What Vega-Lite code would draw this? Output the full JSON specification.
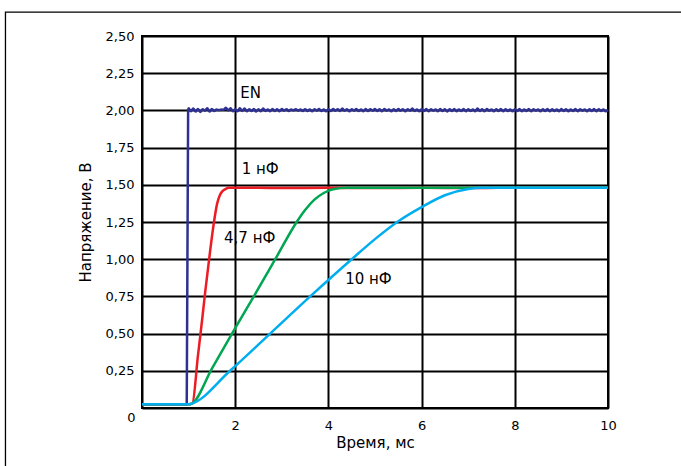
{
  "$schema": "https://vega.github.io/schema/vega-lite/v6.json",
  "width": 466,
  "height": 372,
  "autosize": {"type": "none"},
  "padding": {"left": 142, "top": 36, "right": 73, "bottom": 58},
  "background": "white",
  "config": {
    "view": {"stroke": "black", "strokeWidth": 2},
    "font": "DejaVu Sans"
  },
  "datasets": {
    "curves": [
      {"x": 0, "y": 0.025, "s": "EN"}, {"x": 0.5, "y": 0.025, "s": "EN"}, {"x": 0.96, "y": 0.025, "s": "EN"}, {"x": 0.99, "y": 2.004, "s": "EN"},
      {"x": 1.00, "y": 2.014, "s": "EN"}, {"x": 1.05, "y": 1.994, "s": "EN"}, {"x": 1.10, "y": 2.012, "s": "EN"}, {"x": 1.15, "y": 1.992, "s": "EN"}, {"x": 1.20, "y": 2.010, "s": "EN"}, {"x": 1.25, "y": 1.990, "s": "EN"}, {"x": 1.30, "y": 2.008, "s": "EN"}, {"x": 1.35, "y": 1.998, "s": "EN"}, {"x": 1.40, "y": 2.014, "s": "EN"}, {"x": 1.45, "y": 1.992, "s": "EN"},
      {"x": 1.50, "y": 2.010, "s": "EN"}, {"x": 1.55, "y": 1.996, "s": "EN"}, {"x": 1.60, "y": 2.006, "s": "EN"}, {"x": 1.65, "y": 2.002, "s": "EN"}, {"x": 1.70, "y": 2.006, "s": "EN"}, {"x": 1.75, "y": 2.004, "s": "EN"}, {"x": 1.80, "y": 2.018, "s": "EN"}, {"x": 1.85, "y": 2.000, "s": "EN"}, {"x": 1.90, "y": 2.014, "s": "EN"}, {"x": 1.95, "y": 1.994, "s": "EN"},
      {"x": 2.00, "y": 2.008, "s": "EN"}, {"x": 2.05, "y": 1.994, "s": "EN"}, {"x": 2.10, "y": 2.014, "s": "EN"}, {"x": 2.15, "y": 1.996, "s": "EN"}, {"x": 2.20, "y": 2.012, "s": "EN"}, {"x": 2.25, "y": 1.994, "s": "EN"}, {"x": 2.30, "y": 2.008, "s": "EN"}, {"x": 2.35, "y": 1.996, "s": "EN"}, {"x": 2.40, "y": 2.010, "s": "EN"}, {"x": 2.45, "y": 1.992, "s": "EN"},
      {"x": 2.50, "y": 2.008, "s": "EN"}, {"x": 2.55, "y": 1.994, "s": "EN"}, {"x": 2.60, "y": 2.012, "s": "EN"}, {"x": 2.65, "y": 1.996, "s": "EN"}, {"x": 2.70, "y": 2.006, "s": "EN"}, {"x": 2.75, "y": 1.994, "s": "EN"}, {"x": 2.80, "y": 2.010, "s": "EN"}, {"x": 2.85, "y": 1.996, "s": "EN"}, {"x": 2.90, "y": 2.008, "s": "EN"}, {"x": 2.95, "y": 1.994, "s": "EN"},
      {"x": 3.00, "y": 2.010, "s": "EN"}, {"x": 3.05, "y": 1.998, "s": "EN"}, {"x": 3.10, "y": 2.008, "s": "EN"}, {"x": 3.15, "y": 1.996, "s": "EN"}, {"x": 3.20, "y": 2.006, "s": "EN"}, {"x": 3.25, "y": 2.000, "s": "EN"}, {"x": 3.30, "y": 2.008, "s": "EN"}, {"x": 3.35, "y": 1.998, "s": "EN"}, {"x": 3.40, "y": 2.006, "s": "EN"}, {"x": 3.45, "y": 1.996, "s": "EN"},
      {"x": 3.50, "y": 2.008, "s": "EN"}, {"x": 3.55, "y": 1.996, "s": "EN"}, {"x": 3.60, "y": 2.006, "s": "EN"}, {"x": 3.65, "y": 1.994, "s": "EN"}, {"x": 3.70, "y": 2.008, "s": "EN"}, {"x": 3.75, "y": 1.998, "s": "EN"}, {"x": 3.80, "y": 2.010, "s": "EN"}, {"x": 3.85, "y": 1.996, "s": "EN"}, {"x": 3.90, "y": 2.006, "s": "EN"}, {"x": 3.95, "y": 1.994, "s": "EN"},
      {"x": 4.00, "y": 2.008, "s": "EN"}, {"x": 4.05, "y": 1.996, "s": "EN"}, {"x": 4.10, "y": 2.010, "s": "EN"}, {"x": 4.15, "y": 1.998, "s": "EN"}, {"x": 4.20, "y": 2.008, "s": "EN"}, {"x": 4.25, "y": 1.996, "s": "EN"}, {"x": 4.30, "y": 2.012, "s": "EN"}, {"x": 4.35, "y": 1.998, "s": "EN"}, {"x": 4.40, "y": 2.008, "s": "EN"}, {"x": 4.45, "y": 1.994, "s": "EN"},
      {"x": 4.50, "y": 2.008, "s": "EN"}, {"x": 4.55, "y": 1.998, "s": "EN"}, {"x": 4.60, "y": 2.010, "s": "EN"}, {"x": 4.65, "y": 1.996, "s": "EN"}, {"x": 4.70, "y": 2.006, "s": "EN"}, {"x": 4.75, "y": 1.994, "s": "EN"}, {"x": 4.80, "y": 2.010, "s": "EN"}, {"x": 4.85, "y": 1.996, "s": "EN"}, {"x": 4.90, "y": 2.008, "s": "EN"}, {"x": 4.95, "y": 1.998, "s": "EN"},
      {"x": 5.00, "y": 2.010, "s": "EN"}, {"x": 5.05, "y": 1.996, "s": "EN"}, {"x": 5.10, "y": 2.008, "s": "EN"}, {"x": 5.15, "y": 1.994, "s": "EN"}, {"x": 5.20, "y": 2.010, "s": "EN"}, {"x": 5.25, "y": 1.998, "s": "EN"}, {"x": 5.30, "y": 2.006, "s": "EN"}, {"x": 5.35, "y": 1.994, "s": "EN"}, {"x": 5.40, "y": 2.008, "s": "EN"}, {"x": 5.45, "y": 1.996, "s": "EN"},
      {"x": 5.50, "y": 2.010, "s": "EN"}, {"x": 5.55, "y": 1.998, "s": "EN"}, {"x": 5.60, "y": 2.008, "s": "EN"}, {"x": 5.65, "y": 1.994, "s": "EN"}, {"x": 5.70, "y": 2.008, "s": "EN"}, {"x": 5.75, "y": 1.998, "s": "EN"}, {"x": 5.80, "y": 2.012, "s": "EN"}, {"x": 5.85, "y": 1.996, "s": "EN"}, {"x": 5.90, "y": 2.006, "s": "EN"}, {"x": 5.95, "y": 1.994, "s": "EN"},
      {"x": 6.00, "y": 2.008, "s": "EN"}, {"x": 6.05, "y": 1.996, "s": "EN"}, {"x": 6.10, "y": 2.010, "s": "EN"}, {"x": 6.15, "y": 1.994, "s": "EN"}, {"x": 6.20, "y": 2.008, "s": "EN"}, {"x": 6.25, "y": 1.998, "s": "EN"}, {"x": 6.30, "y": 2.006, "s": "EN"}, {"x": 6.35, "y": 1.994, "s": "EN"}, {"x": 6.40, "y": 2.010, "s": "EN"}, {"x": 6.45, "y": 1.996, "s": "EN"},
      {"x": 6.50, "y": 2.008, "s": "EN"}, {"x": 6.55, "y": 1.992, "s": "EN"}, {"x": 6.60, "y": 2.008, "s": "EN"}, {"x": 6.65, "y": 1.996, "s": "EN"}, {"x": 6.70, "y": 2.010, "s": "EN"}, {"x": 6.75, "y": 1.994, "s": "EN"}, {"x": 6.80, "y": 2.006, "s": "EN"}, {"x": 6.85, "y": 1.996, "s": "EN"}, {"x": 6.90, "y": 2.010, "s": "EN"}, {"x": 6.95, "y": 1.994, "s": "EN"},
      {"x": 7.00, "y": 2.008, "s": "EN"}, {"x": 7.05, "y": 1.996, "s": "EN"}, {"x": 7.10, "y": 2.006, "s": "EN"}, {"x": 7.15, "y": 1.994, "s": "EN"}, {"x": 7.20, "y": 2.012, "s": "EN"}, {"x": 7.25, "y": 1.996, "s": "EN"}, {"x": 7.30, "y": 2.008, "s": "EN"}, {"x": 7.35, "y": 1.994, "s": "EN"}, {"x": 7.40, "y": 2.010, "s": "EN"}, {"x": 7.45, "y": 1.998, "s": "EN"},
      {"x": 7.50, "y": 2.006, "s": "EN"}, {"x": 7.55, "y": 1.994, "s": "EN"}, {"x": 7.60, "y": 2.008, "s": "EN"}, {"x": 7.65, "y": 1.996, "s": "EN"}, {"x": 7.70, "y": 2.010, "s": "EN"}, {"x": 7.75, "y": 1.994, "s": "EN"}, {"x": 7.80, "y": 2.008, "s": "EN"}, {"x": 7.85, "y": 1.996, "s": "EN"}, {"x": 7.90, "y": 2.006, "s": "EN"}, {"x": 7.95, "y": 1.994, "s": "EN"},
      {"x": 8.00, "y": 2.008, "s": "EN"}, {"x": 8.05, "y": 1.996, "s": "EN"}, {"x": 8.10, "y": 2.010, "s": "EN"}, {"x": 8.15, "y": 1.994, "s": "EN"}, {"x": 8.20, "y": 2.006, "s": "EN"}, {"x": 8.25, "y": 1.996, "s": "EN"}, {"x": 8.30, "y": 2.010, "s": "EN"}, {"x": 8.35, "y": 1.994, "s": "EN"}, {"x": 8.40, "y": 2.008, "s": "EN"}, {"x": 8.45, "y": 1.998, "s": "EN"},
      {"x": 8.50, "y": 2.006, "s": "EN"}, {"x": 8.55, "y": 1.994, "s": "EN"}, {"x": 8.60, "y": 2.008, "s": "EN"}, {"x": 8.65, "y": 1.996, "s": "EN"}, {"x": 8.70, "y": 2.010, "s": "EN"}, {"x": 8.75, "y": 1.994, "s": "EN"}, {"x": 8.80, "y": 2.008, "s": "EN"}, {"x": 8.85, "y": 1.996, "s": "EN"}, {"x": 8.90, "y": 2.006, "s": "EN"}, {"x": 8.95, "y": 1.994, "s": "EN"},
      {"x": 9.00, "y": 2.010, "s": "EN"}, {"x": 9.05, "y": 1.996, "s": "EN"}, {"x": 9.10, "y": 2.008, "s": "EN"}, {"x": 9.15, "y": 1.994, "s": "EN"}, {"x": 9.20, "y": 2.006, "s": "EN"}, {"x": 9.25, "y": 1.996, "s": "EN"}, {"x": 9.30, "y": 2.010, "s": "EN"}, {"x": 9.35, "y": 1.994, "s": "EN"}, {"x": 9.40, "y": 2.008, "s": "EN"}, {"x": 9.45, "y": 1.998, "s": "EN"},
      {"x": 9.50, "y": 2.006, "s": "EN"}, {"x": 9.55, "y": 1.994, "s": "EN"}, {"x": 9.60, "y": 2.008, "s": "EN"}, {"x": 9.65, "y": 1.996, "s": "EN"}, {"x": 9.70, "y": 2.010, "s": "EN"}, {"x": 9.75, "y": 1.994, "s": "EN"}, {"x": 9.80, "y": 2.008, "s": "EN"}, {"x": 9.85, "y": 1.996, "s": "EN"}, {"x": 9.90, "y": 2.006, "s": "EN"}, {"x": 9.95, "y": 1.994, "s": "EN"}, {"x": 10.00, "y": 2.004, "s": "EN"},

      {"x": 0, "y": 0.025, "s": "1"}, {"x": 0.5, "y": 0.025, "s": "1"}, {"x": 1.0, "y": 0.025, "s": "1"}, {"x": 1.08, "y": 0.03, "s": "1"}, {"x": 1.2, "y": 0.35, "s": "1"}, {"x": 1.3, "y": 0.62, "s": "1"}, {"x": 1.36, "y": 0.79, "s": "1"}, {"x": 1.46, "y": 1.05, "s": "1"}, {"x": 1.54, "y": 1.24, "s": "1"}, {"x": 1.61, "y": 1.37, "s": "1"}, {"x": 1.67, "y": 1.43, "s": "1"}, {"x": 1.72, "y": 1.455, "s": "1"}, {"x": 1.8, "y": 1.473, "s": "1"}, {"x": 1.86, "y": 1.48, "s": "1"}, {"x": 2.5, "y": 1.48, "s": "1"}, {"x": 3.0, "y": 1.478, "s": "1"}, {"x": 4.0, "y": 1.48, "s": "1"}, {"x": 5.0, "y": 1.478, "s": "1"}, {"x": 6.0, "y": 1.48, "s": "1"}, {"x": 7.0, "y": 1.478, "s": "1"}, {"x": 7.6, "y": 1.48, "s": "1"},

      {"x": 0, "y": 0.025, "s": "4.7"}, {"x": 0.5, "y": 0.025, "s": "4.7"}, {"x": 1.0, "y": 0.025, "s": "4.7"}, {"x": 1.07, "y": 0.03, "s": "4.7"}, {"x": 1.5, "y": 0.265, "s": "4.7"}, {"x": 1.95, "y": 0.51, "s": "4.7"}, {"x": 2.4, "y": 0.75, "s": "4.7"}, {"x": 2.86, "y": 1.0, "s": "4.7"}, {"x": 3.32, "y": 1.25, "s": "4.7"}, {"x": 3.5, "y": 1.33, "s": "4.7"}, {"x": 3.7, "y": 1.4, "s": "4.7"}, {"x": 3.9, "y": 1.445, "s": "4.7"}, {"x": 4.1, "y": 1.47, "s": "4.7"}, {"x": 4.4, "y": 1.48, "s": "4.7"}, {"x": 6.0, "y": 1.48, "s": "4.7"}, {"x": 8.0, "y": 1.48, "s": "4.7"}, {"x": 10.0, "y": 1.48, "s": "4.7"},

      {"x": 0, "y": 0.025, "s": "10"}, {"x": 0.5, "y": 0.025, "s": "10"}, {"x": 1.0, "y": 0.025, "s": "10"}, {"x": 1.07, "y": 0.03, "s": "10"}, {"x": 1.89, "y": 0.25, "s": "10"}, {"x": 2.75, "y": 0.5, "s": "10"}, {"x": 3.61, "y": 0.75, "s": "10"}, {"x": 4.5, "y": 1.0, "s": "10"}, {"x": 5.0, "y": 1.135, "s": "10"}, {"x": 5.5, "y": 1.255, "s": "10"}, {"x": 6.0, "y": 1.35, "s": "10"}, {"x": 6.5, "y": 1.43, "s": "10"}, {"x": 7.0, "y": 1.472, "s": "10"}, {"x": 7.3, "y": 1.48, "s": "10"}, {"x": 10.0, "y": 1.48, "s": "10"}
    ],
    "labels": [
      {"x": 2.11, "y": 2.12, "label": "EN"},
      {"x": 2.14, "y": 1.605, "label": "1 нФ"},
      {"x": 1.76, "y": 1.145, "label": "4,7 нФ"},
      {"x": 4.36, "y": 0.866, "label": "10 нФ"}
    ],
    "frame": [
      {"x": -2.93, "x2": 12, "y": 2.66, "y2": -1}
    ]
  },
  "encoding": {
    "x": {
      "field": "x", "type": "quantitative",
      "scale": {"domain": [0, 10], "nice": false, "zero": false},
      "axis": {
        "values": [0, 2, 4, 6, 8, 10],
        "grid": true, "gridColor": "black", "gridWidth": 2, "gridOpacity": 1,
        "domain": false, "ticks": false,
        "labelFlush": false, "labelOverlap": false,
        "labelFontSize": 13, "labelColor": "black",
        "labelAlign": {"condition": {"test": "datum.value == 0", "value": "right"}, "value": "center"},
        "labelOffset": {"condition": {"test": "datum.value == 0", "value": -7}, "value": 0},
        "labelPadding": {"condition": {"test": "datum.value == 0", "value": 3}, "value": 11},
        "title": "Время, мс", "titleFontSize": 15, "titleFontWeight": "normal", "titleColor": "black", "titlePadding": 3
      }
    },
    "y": {
      "field": "y", "type": "quantitative",
      "scale": {"domain": [0, 2.5], "nice": false, "zero": false},
      "axis": {
        "values": [0, 0.25, 0.5, 0.75, 1, 1.25, 1.5, 1.75, 2, 2.25, 2.5],
        "grid": true, "gridColor": "black", "gridWidth": 2, "gridOpacity": 1,
        "domain": false, "ticks": false,
        "labelFlush": false, "labelOverlap": false,
        "labelExpr": "datum.value == 0 ? '' : replace(format(datum.value, '.2f'), '.', ',')",
        "labelFontSize": 13, "labelColor": "black", "labelPadding": 8,
        "title": "Напряжение, В", "titleFontSize": 15, "titleFontWeight": "normal", "titleColor": "black", "titlePadding": 12
      }
    }
  },
  "layer": [
    {
      "data": {"name": "curves"},
      "mark": {"type": "line", "strokeWidth": 2.5, "interpolate": "monotone", "strokeJoin": "round"},
      "encoding": {
        "color": {
          "field": "s", "type": "nominal",
          "scale": {"domain": ["EN", "1", "4.7", "10"], "range": ["#2e3192", "#ed1c24", "#00a651", "#00aeef"]},
          "legend": null
        },
        "order": {"field": "x", "type": "quantitative"}
      }
    },
    {
      "data": {"name": "labels"},
      "mark": {"type": "text", "align": "left", "baseline": "middle", "fontSize": 15, "color": "black"},
      "encoding": {
        "text": {"field": "label"}
      }
    },
    {
      "data": {"name": "frame"},
      "mark": {"type": "rect", "filled": false, "stroke": "black", "strokeWidth": 1.3, "clip": false},
      "encoding": {
        "x2": {"field": "x2"},
        "y2": {"field": "y2"}
      }
    }
  ]
}
